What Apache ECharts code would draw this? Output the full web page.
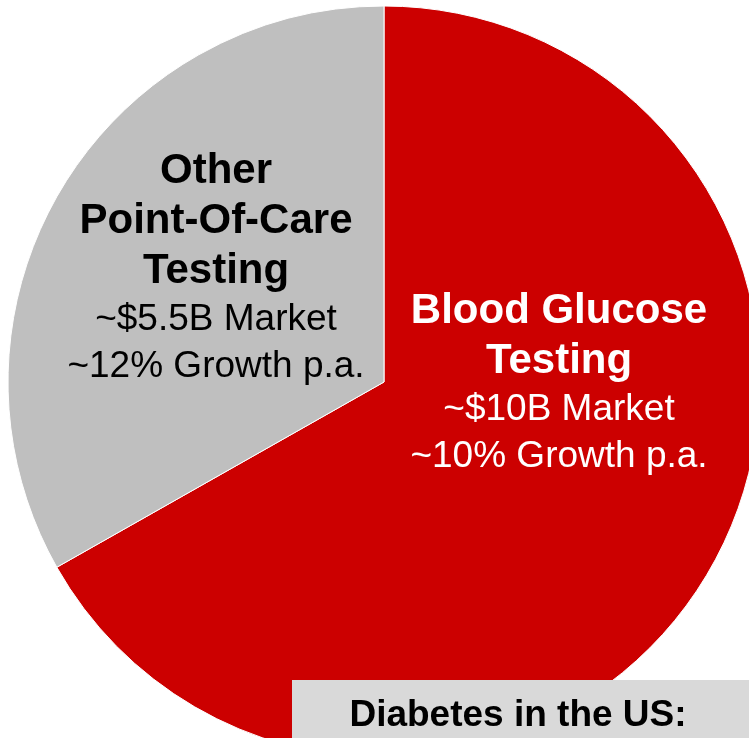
<!DOCTYPE html>
<html>
<head>
<meta charset="utf-8">
<script src="https://cdn.jsdelivr.net/npm/echarts@6/dist/echarts.min.js"></script>
<style>
  html, body { margin: 0; padding: 0; background: #fff; }
  #main { width: 749px; height: 738px; }
</style>
</head>
<body>
<div id="main"></div>
<script>
// slice shares as drawn (red vs grey)
var sliceNames = ['Blood Glucose Testing', 'Other Point-Of-Care Testing'];
var sliceShare = [66.8, 33.2];
var titleLines = [['Blood Glucose', 'Testing'], ['Other', 'Point-Of-Care', 'Testing']];
var marketLabels = ['~$10B Market', '~$5.5B Market'];
var growthLabels = ['~10% Growth p.a.', '~12% Growth p.a.'];
var sliceColors = ['#cc0000', '#bfbfbf'];
var labelColors = ['#ffffff', '#000000'];
var boxTitle = 'Diabetes in the US:';

var myChart = echarts.init(document.getElementById('main'));

var pieData = [];
for (var i = 0; i < sliceNames.length; i++) {
    var txt = titleLines[i].map(function (s) { return '{t|' + s + '}'; }).join('\n');
    txt += '\n{s|' + marketLabels[i] + '}\n{s|' + growthLabels[i] + '}';
    pieData.push({
        name: sliceNames[i],
        value: sliceShare[i],
        itemStyle: { color: sliceColors[i] },
        label: {
            formatter: txt,
            rich: {
                t: { fontFamily: 'Liberation Sans', fontWeight: 'bold', fontSize: 42, lineHeight: 50, color: labelColors[i], align: 'center' },
                s: { fontFamily: 'Liberation Sans', fontSize: 37, lineHeight: 47, color: labelColors[i], align: 'center' }
            }
        }
    });
}

// label anchor points (top centre of each text block)
var labelPos = [[559, 286], [216, 146]];

option = {
    animation: false,
    backgroundColor: '#ffffff',
    series: [{
        type: 'pie',
        center: [384, 382],
        radius: 376,
        startAngle: 90,
        clockwise: true,
        silent: true,
        itemStyle: { borderColor: '#ffffff', borderWidth: 1 },
        label: { show: true, position: 'inside' },
        labelLine: { show: false },
        labelLayout: function (params) {
            var p = labelPos[params.dataIndex];
            return { x: p[0], y: p[1], align: 'center', verticalAlign: 'top' };
        },
        data: pieData
    }],
    graphic: [{
        type: 'rect',
        z: 100,
        shape: { x: 292, y: 680, width: 457, height: 58 },
        style: { fill: '#d9d9d9' }
    }, {
        type: 'text',
        z: 101,
        x: 518,
        y: 716,
        style: {
            text: boxTitle,
            font: 'bold 37px "Liberation Sans"',
            fill: '#000000',
            align: 'center',
            verticalAlign: 'middle'
        }
    }]
};
myChart.setOption(option);
</script>
</body>
</html>
